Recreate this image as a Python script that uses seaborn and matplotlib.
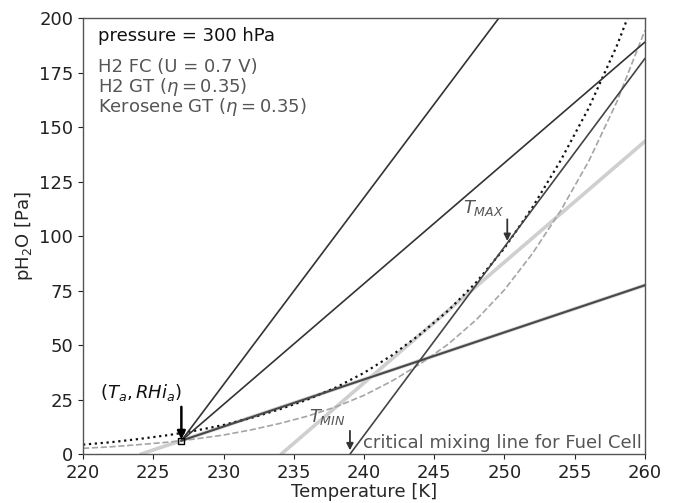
import matplotlib
matplotlib.use("Agg")
import matplotlib.pyplot as plt
import seaborn as sns
import pandas as pd

# saturation curves (Pa)
temps = [220, 222, 224, 226, 227, 228, 230, 232, 234, 236, 238, 240, 242,
         244, 246, 248, 250, 252, 254, 256, 258, 260]
p_sat_water = [4.4, 5.5, 7.0, 8.7, 9.7, 10.8, 13.4, 16.7, 20.6, 25.1, 30.6, 37.3, 45.4,
               55.0, 65.9, 78.9, 94.5, 113.3, 134.7, 158.8, 187.3, 220.7]
p_sat_ice = [2.7, 3.4, 4.4, 5.5, 6.2, 7.0, 8.8, 11.2, 14.1, 17.5, 21.7, 27.0, 33.6,
             41.4, 50.5, 61.7, 75.4, 92.1, 111.7, 134.4, 161.6, 194.4]

# mixing lines (two end points each)
fc_T, fc_p = [227, 249.6], [6.2, 200]
gt_T, gt_p = [227, 260], [6.2, 189]
ker_T, ker_p = [227, 260], [6.2, 77.5]
ker_grey_T, ker_grey_p = [224.1, 260], [0, 77.5]
gt_crit_T, gt_crit_p = [234.1, 260], [0, 143.5]
fc_crit_T, fc_crit_p = [239, 260], [0, 181.5]

sns.set_style("ticks")
plt.rcParams['font.family'] = ['DejaVu Sans']

fig = plt.figure(figsize=(6.92, 5.03), dpi=100)
ax = fig.add_axes([0.12, 0.097, 0.812, 0.867])

df = pd.DataFrame({"T": temps, "ew": p_sat_water, "ei": p_sat_ice})

sns.lineplot(x=ker_grey_T, y=ker_grey_p, ax=ax, color="#cfcfcf", lw=2.6)
sns.lineplot(x=gt_crit_T, y=gt_crit_p, ax=ax, color="#cfcfcf", lw=2.6)
sns.lineplot(data=df, x="T", y="ei", ax=ax, color="#a5a5a5", lw=1.2, dashes=(6, 4), linestyle="--")
sns.lineplot(data=df, x="T", y="ew", ax=ax, color="#111111", lw=1.6, linestyle=":")
sns.lineplot(x=fc_T, y=fc_p, ax=ax, color="#333333", lw=1.2)
sns.lineplot(x=gt_T, y=gt_p, ax=ax, color="#333333", lw=1.2)
sns.lineplot(x=ker_T, y=ker_p, ax=ax, color="#484848", lw=1.5)
sns.lineplot(x=fc_crit_T, y=fc_crit_p, ax=ax, color="#444444", lw=1.2)
ax.plot([227], [6.2], marker="s", ms=4, mfc="none", mec="black", mew=1)

ax.set_xlim(220, 260)
ax.set_ylim(0, 200)
ax.set_xticks(range(220, 261, 5))
ax.set_yticks(range(0, 201, 25))
ax.tick_params(labelsize=13, colors="#222222")
for s in ax.spines.values():
    s.set_color("#555555")
    s.set_linewidth(1.0)
ax.set_xlabel("Temperature [K]", fontsize=13, labelpad=1)
ax.set_ylabel("pH$_2$O [Pa]", fontsize=13, labelpad=3)

ax.text(221.1, 192, "pressure = 300 hPa", fontsize=13, color="#111111", va="center")
ax.text(221.1, 177.5, "H2 FC (U = 0.7 V)", fontsize=13, color="#555555", va="center")
ax.text(221.1, 168.3, r"H2 GT ($\eta = 0.35$)", fontsize=13, color="#555555", va="center")
ax.text(221.1, 159.2, r"Kerosene GT ($\eta = 0.35$)", fontsize=13, color="#555555", va="center")

ax.text(239.9, 0.8, "critical mixing line for Fuel Cell", fontsize=13, color="#555555", va="bottom")

ax.annotate("", xy=(227, 5.5), xytext=(227, 23),
            arrowprops=dict(arrowstyle="-|>", color="black", lw=1.8, mutation_scale=12))
ax.text(224.1, 28.5, r"$(T_a, RHi_a)$", fontsize=13, color="#111111", ha="center", va="center")

ax.annotate("", xy=(239, 0.5), xytext=(239, 12),
            arrowprops=dict(arrowstyle="-|>", color="#333333", lw=1.3, mutation_scale=10))
ax.text(237.4, 17, r"$T_{MIN}$", fontsize=13, color="#555555", ha="center", va="center")

ax.annotate("", xy=(250.2, 96.5), xytext=(250.2, 109),
            arrowprops=dict(arrowstyle="-|>", color="#333333", lw=1.3, mutation_scale=10))
ax.text(248.5, 113, r"$T_{MAX}$", fontsize=13, color="#555555", ha="center", va="center")

fig.savefig("out.png", dpi=100)
